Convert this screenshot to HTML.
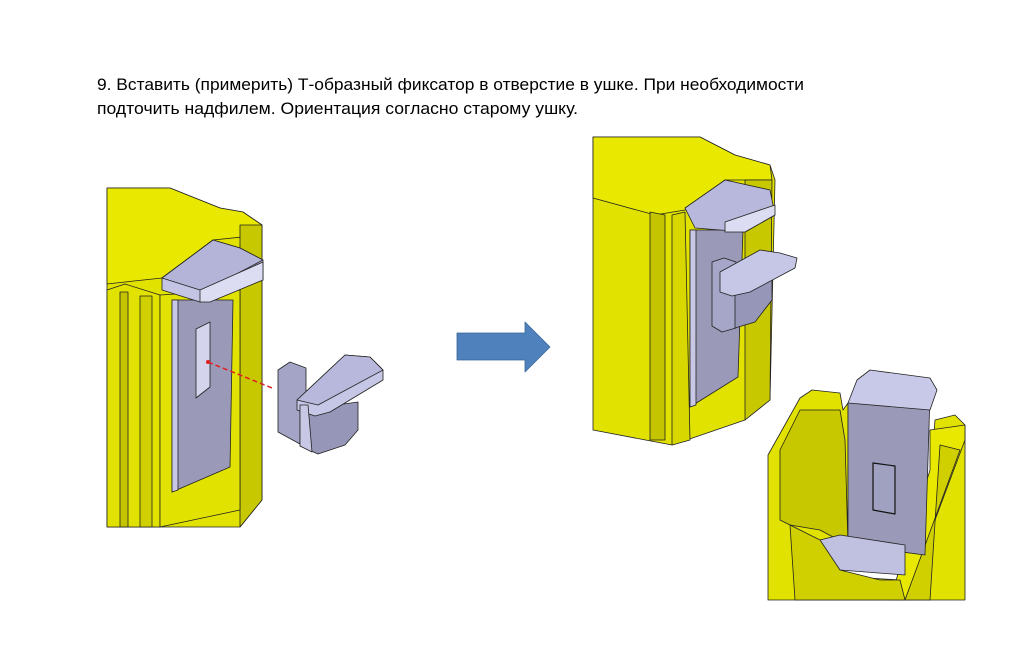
<!DOCTYPE html>
<html><head><meta charset="utf-8"><style>
html,body{margin:0;padding:0;background:#fff;}
svg{display:block}
text{font-family:"Liberation Sans","DejaVu Sans",sans-serif;font-size:17px;fill:#000}
</style></head><body>
<svg width="1024" height="648" viewBox="0 0 1024 648" xmlns="http://www.w3.org/2000/svg">
<text x="97" y="90" textLength="707" lengthAdjust="spacingAndGlyphs">9. Вставить (примерить) Т-образный фиксатор в отверстие в ушке. При необходимости</text>
<text x="97" y="114" textLength="481" lengthAdjust="spacingAndGlyphs">подточить надфилем. Ориентация согласно старому ушку.</text>

<g stroke="#222" stroke-width="0.8" stroke-linejoin="round">
<!-- LEFT FIGURE -->
<polygon points="107,188 170,188 220,208 243,212 262,225 262,500 240,527 107,527" fill="#e2e200"/>
<polygon points="107,188 170,188 220,208 243,212 262,225 262,235 213,240 162,278 125,282 107,284" fill="#e8e800"/>
<polygon points="240,225 262,225 262,500 240,527" fill="#c8c800"/>
<polygon points="107,290 125,284 160,295 160,527 107,527" fill="#e2e200"/>
<polygon points="120,292 128,292 128,527 120,527" fill="#c4c400"/>
<polygon points="140,296 152,296 152,527 140,527" fill="#d0d000"/>
<polygon points="160,295 240,290 240,510 160,527" fill="#e2e200"/>
<polygon points="172,300 233,300 230,467 172,492" fill="#9a9ab8"/>
<polygon points="172,300 178,300 178,490 172,492" fill="#c8c8e6"/>
<polygon points="196,329 210,322 210,387 196,398" fill="#d4d4ec"/>
<polygon points="162,278 213,240 240,248 263,260 263,280 210,300 200,302 162,290" fill="#c4c4e4"/>
<polygon points="162,278 213,240 240,248 263,260 210,288 200,290" fill="#b4b4d8"/>
<polygon points="200,290 263,262 263,280 210,302 200,302" fill="#dcdcf2"/>
<line x1="208" y1="362" x2="272" y2="388" stroke="#e02020" stroke-width="1.5" stroke-dasharray="5,3"/>
<circle cx="208" cy="362" r="2" fill="#e02020" stroke="none"/>
<polygon points="278,370 290,362 306,368 306,440 300,444 278,432" fill="#a4a4c6"/>
<polygon points="300,410 358,402 358,430 345,445 318,454 300,446" fill="#9696b8"/>
<polygon points="297,400 345,355 370,357 383,370 383,380 330,412 315,416 297,410" fill="#c6c6e6"/>
<polygon points="297,400 345,355 370,357 383,370 318,405" fill="#b8b8dc"/>
<polygon points="300,405 308,405 312,452 300,446" fill="#c8c8e6"/>

<!-- ARROW -->
<polygon points="457,333 525,333 525,322 550,347 525,372 525,360 457,360" fill="#4f81bd" stroke="#3a6596"/>

<!-- RIGHT TOP FIGURE -->
<polygon points="593,137 700,137 735,155 770,165 775,180 770,400 745,420 672,445 593,430" fill="#e2e200"/>
<polygon points="593,137 700,137 735,155 770,165 772,180 725,180 685,210 655,215 593,198" fill="#e8e800"/>
<polygon points="745,180 772,180 770,400 745,420" fill="#c8c800"/>
<polygon points="650,212 665,215 665,440 650,440" fill="#c4c400"/>
<polygon points="672,215 685,212 690,440 672,445" fill="#d8d800"/>
<polygon points="690,230 743,230 738,377 690,407" fill="#9a9ab8"/>
<polygon points="690,230 696,230 696,405 690,407" fill="#c8c8e6"/>
<polygon points="685,208 725,180 770,190 775,215 745,232 695,228" fill="#b8b8dc"/>
<polygon points="725,222 775,205 775,215 745,232 725,232" fill="#dcdcf2"/>
<polygon points="712,262 724,258 736,262 736,328 722,332 712,326" fill="#a6a6c8"/>
<polygon points="735,290 772,275 772,300 755,322 735,328" fill="#9696b8"/>
<polygon points="720,272 760,250 780,253 797,258 795,268 750,292 732,296 720,292" fill="#c6c6e6"/>

<!-- BOTTOM RIGHT FIGURE -->
<polygon points="768,455 800,398 812,390 840,393 843,410 848,403 848,545 830,560 820,575 900,580 925,555 935,420 955,415 965,425 965,600 768,600" fill="#e2e200"/>
<polygon points="780,450 800,410 840,410 845,440 848,545 820,530 790,525 780,520" fill="#c8c800"/>
<polygon points="930,430 965,425 965,440 905,600 890,600 930,470" fill="#e8e800"/>
<polygon points="940,445 960,450 905,600 930,600" fill="#d0d000"/>
<polygon points="848,403 930,395 925,555 848,545" fill="#9a9ab8"/>
<polygon points="857,380 870,370 930,378 937,390 930,410 848,403" fill="#c8c8e8"/>
<polygon points="873,463 895,466 895,514 873,510" fill="#a0a0c0" stroke="#111" stroke-width="1.2"/>
<polygon points="820,540 840,535 905,545 905,575 840,570 825,560" fill="#c0c0e0"/>
<polygon points="790,525 820,540 840,570 880,580 900,580 905,600 795,600" fill="#d0d000"/>
</g>
</svg>
</body></html>
